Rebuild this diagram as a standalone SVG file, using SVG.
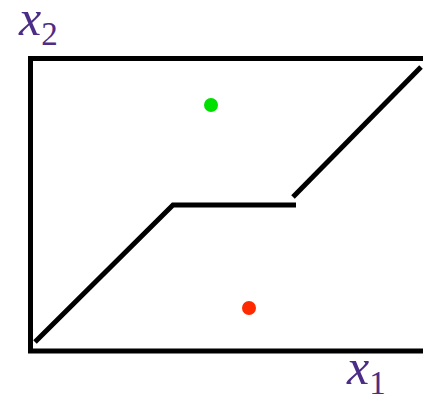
<svg xmlns="http://www.w3.org/2000/svg" width="423" height="401" viewBox="0 0 423 401">
<style>
.ln{stroke:#000;stroke-width:5;fill:none}
.lab{font-family:"Liberation Serif","DejaVu Serif",serif;fill:#4b2d87}
.v{font-style:italic;font-size:50px}
.s{font-size:33px}
</style>
<rect width="423" height="401" fill="#fff"/>
<g id="axes">
<path class="ln" d="M423,58.5 H30.5 V351 H423"/>
</g>
<g id="connectors">
<path class="ln" d="M35,342 L173,205 H296"/>
<path class="ln" d="M293,197 L421,67"/>
</g>
<g id="green-point"><circle cx="211" cy="105" r="7" fill="#00e000"/></g>
<g id="red-point"><circle cx="249" cy="308" r="7" fill="#ff2a00"/></g>
<g id="label-x2"><text class="lab" x="19" y="35"><tspan class="v">x</tspan><tspan class="s" dy="10">2</tspan></text></g>
<g id="label-x1"><text class="lab" x="347" y="384"><tspan class="v">x</tspan><tspan class="s" dy="10">1</tspan></text></g>
</svg>
